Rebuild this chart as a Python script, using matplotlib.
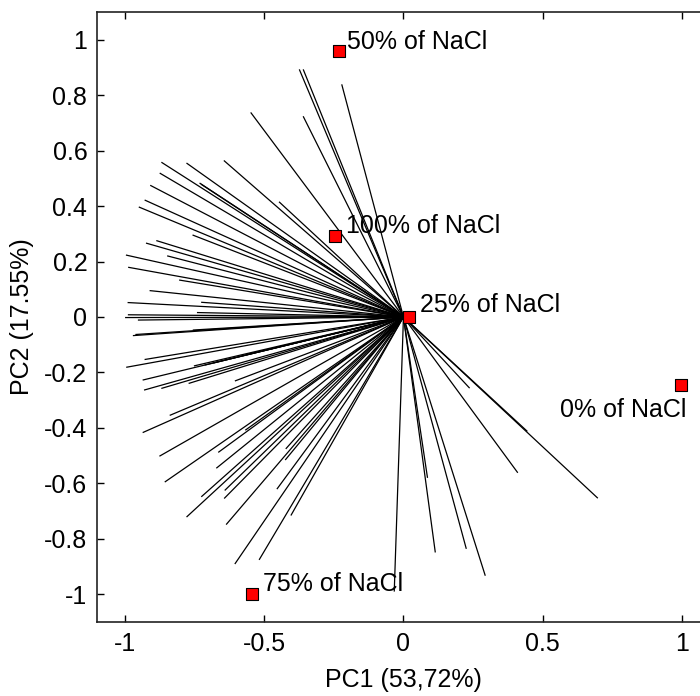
import matplotlib.pyplot as plt
from matplotlib.ticker import FuncFormatter

plt.rcParams['font.family'] = ['Liberation Sans', 'DejaVu Sans']
plt.rcParams['axes.unicode_minus'] = False

# loading vectors (end points, start at the origin)
load_x = [-0.373, -0.359, -0.221, -0.359, -0.547, -0.643, -0.777, -0.867, -0.873, -0.730,
          -0.725, -0.907, -0.445, -0.927, -0.948, -0.755, -0.885, -0.922, -0.846, -0.994,
          -0.986, -0.803, -0.909, -0.988, -0.724, -0.987, -0.739, -0.997, -0.951, -0.754,
          -0.969, -0.960, -0.927, -0.993, -0.712, -0.750, -0.680, -0.560, -0.934, -0.929,
          -0.867, -0.769, -0.603, -0.837, -0.934, -0.874, -0.663, -0.670, -0.855, -0.724,
          -0.640, -0.642, -0.453, -0.423, -0.421, -0.566, -0.777, -0.635, -0.403, -0.604,
          -0.517, -0.033, 0.236, 0.409, 0.443, 0.696, 0.114, 0.225, 0.293, 0.086]
load_y = [0.891, 0.891, 0.837, 0.722, 0.736, 0.563, 0.554, 0.557, 0.518, 0.482,
          0.478, 0.474, 0.414, 0.421, 0.396, 0.295, 0.275, 0.266, 0.220, 0.223,
          0.179, 0.133, 0.095, 0.052, 0.053, 0.008, 0.016, -0.002, -0.011, -0.047,
          -0.067, -0.063, -0.153, -0.181, -0.173, -0.176, -0.165, -0.135, -0.227, -0.263,
          -0.257, -0.239, -0.230, -0.354, -0.416, -0.501, -0.487, -0.544, -0.594, -0.647,
          -0.624, -0.653, -0.619, -0.514, -0.474, -0.407, -0.720, -0.747, -0.714, -0.889,
          -0.874, -0.988, -0.255, -0.560, -0.411, -0.652, -0.847, -0.834, -0.931, -0.578]

# sample scores
samples = ['50% of NaCl', '100% of NaCl', '25% of NaCl', '0% of NaCl', '75% of NaCl']
score_x = [-0.231, -0.245, 0.020, 0.996, -0.543]
score_y = [0.960, 0.292, 0.000, -0.245, -0.999]

fig = plt.figure(figsize=(7, 6.96), dpi=100)
ax = fig.add_axes([97 / 700, 74 / 696, 2.2 * 278.6 / 700, 610 / 696])

for lx, ly in zip(load_x, load_y):
    ax.plot([0, lx], [0, ly], color='black', lw=0.9, zorder=1)

ax.scatter(score_x, score_y, marker='s', s=85, color='#ff0000', edgecolor='black',
           linewidth=0.8, zorder=3)

# label placement (points), text is centred vertically
offsets = [(6, 6.5), (8, 7.5), (8, 9), (4, -18), (8, 7.5)]
aligns = ['left', 'left', 'left', 'right', 'left']
for name, sx, sy, off, ha in zip(samples, score_x, score_y, offsets, aligns):
    ax.annotate(name, (sx, sy), xytext=off, textcoords='offset points',
                ha=ha, va='center', fontsize=18)

ax.set_xlim(-1.1, 1.1)
ax.set_ylim(-1.1, 1.1)
ax.set_xticks([-1, -0.5, 0, 0.5, 1])
ax.set_yticks([-1, -0.8, -0.6, -0.4, -0.2, 0, 0.2, 0.4, 0.6, 0.8, 1])
fmt = FuncFormatter(lambda v, p: '%g' % round(v, 2))
ax.xaxis.set_major_formatter(fmt)
ax.yaxis.set_major_formatter(fmt)
ax.tick_params(direction='in', length=5, width=1, labelsize=18, top=True, pad=7)
for sp in ax.spines.values():
    sp.set_linewidth(1.2)
    sp.set_color('#222222')

ax.set_xlabel('PC1 (53,72%)', fontsize=18, labelpad=9)
ax.set_ylabel('PC2 (17.55%)', fontsize=18, labelpad=7)

fig.savefig('out.png', dpi=100)
